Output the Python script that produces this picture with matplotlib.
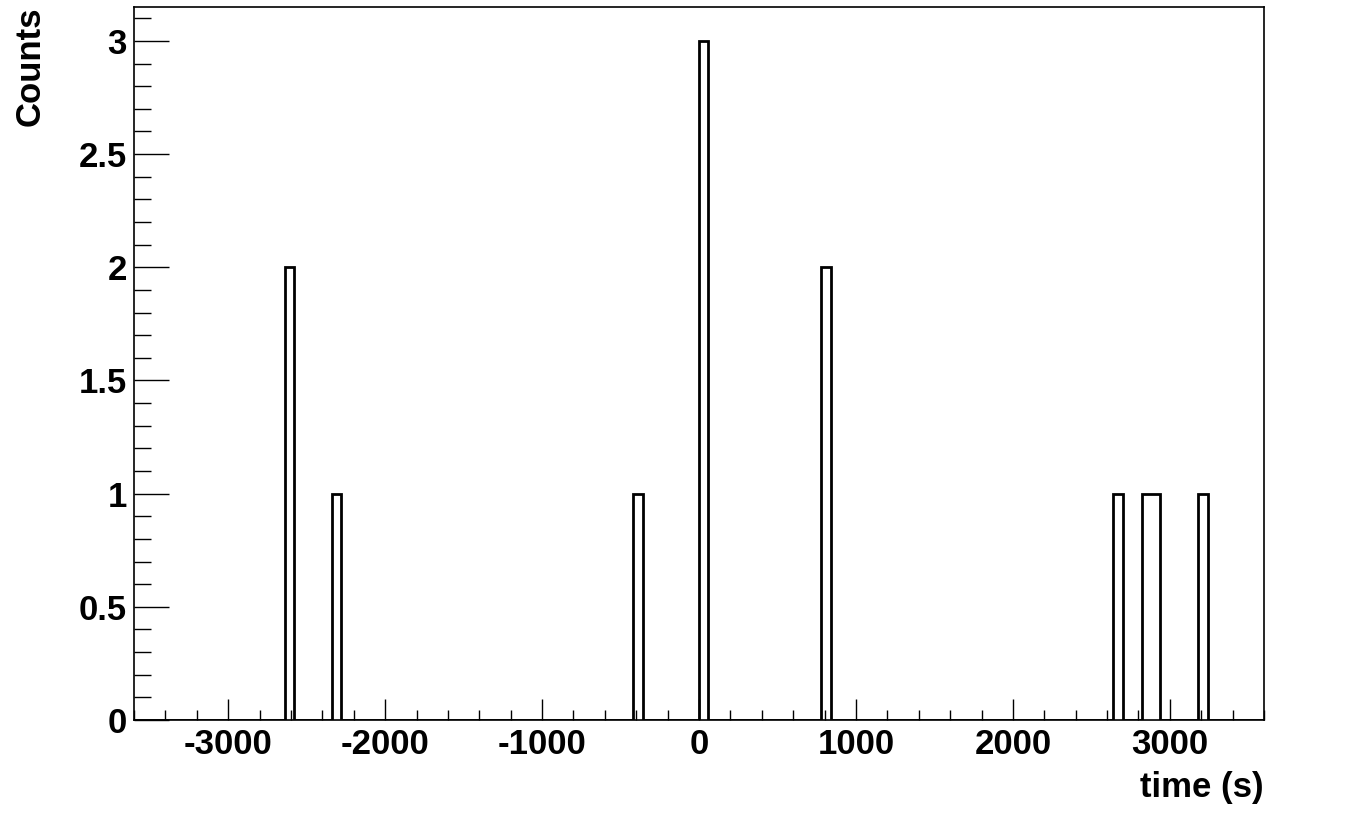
import numpy as np
import matplotlib
matplotlib.use("Agg")
import matplotlib.pyplot as plt
from matplotlib.ticker import MultipleLocator, FuncFormatter

# histogram: 60 s bins from -3600 to 3600, only non-empty bins listed
bin_width = 60
x_min, x_max = -3600, 3600
bin_starts = [-2640, -2340, -420, 0, 780, 2640, 2820, 2880, 3180]
bin_counts = [2, 1, 1, 3, 2, 1, 1, 1, 1]

edges = np.arange(x_min, x_max + bin_width, bin_width)
counts = np.zeros(len(edges) - 1)
for start, c in zip(bin_starts, bin_counts):
    counts[int((start - x_min) // bin_width)] = c

plt.rcParams["font.family"] = ["Liberation Sans", "DejaVu Sans"]
plt.rcParams["font.weight"] = "bold"

fig = plt.figure(figsize=(13.46, 8.13), dpi=100)
ax = fig.add_axes([134 / 1346, 1 - 720 / 813, 1130 / 1346, 713 / 813])

ax.stairs(counts, edges, baseline=0, color="black", linewidth=2)

ax.set_xlim(x_min, x_max)
ax.set_ylim(0, max(bin_counts) * 1.05)

ax.xaxis.set_major_locator(MultipleLocator(1000))
ax.xaxis.set_minor_locator(MultipleLocator(200))
ax.yaxis.set_major_locator(MultipleLocator(0.5))
ax.yaxis.set_minor_locator(MultipleLocator(0.1))
fmt = FuncFormatter(lambda v, pos: "%g" % v)
ax.xaxis.set_major_formatter(fmt)
ax.yaxis.set_major_formatter(fmt)

ax.tick_params(axis="both", which="both", direction="in", width=1, color="black",
               top=False, right=False, labelsize=25)
ax.tick_params(axis="x", which="major", length=15, pad=6)
ax.tick_params(axis="x", which="minor", length=7.5)
ax.tick_params(axis="y", which="major", length=25, pad=5)
ax.tick_params(axis="y", which="minor", length=12)

for sp in ax.spines.values():
    sp.set_linewidth(1.2)

ax.set_xlabel("time (s)", fontsize=25, fontweight="bold", ha="right", va="center")
ax.xaxis.set_label_coords(1.0, -0.094)
ax.set_ylabel("Counts", fontsize=25, fontweight="bold", ha="right", va="center")
ax.yaxis.set_label_coords(-0.092, 1.0)

fig.savefig("out.png", dpi=100)
